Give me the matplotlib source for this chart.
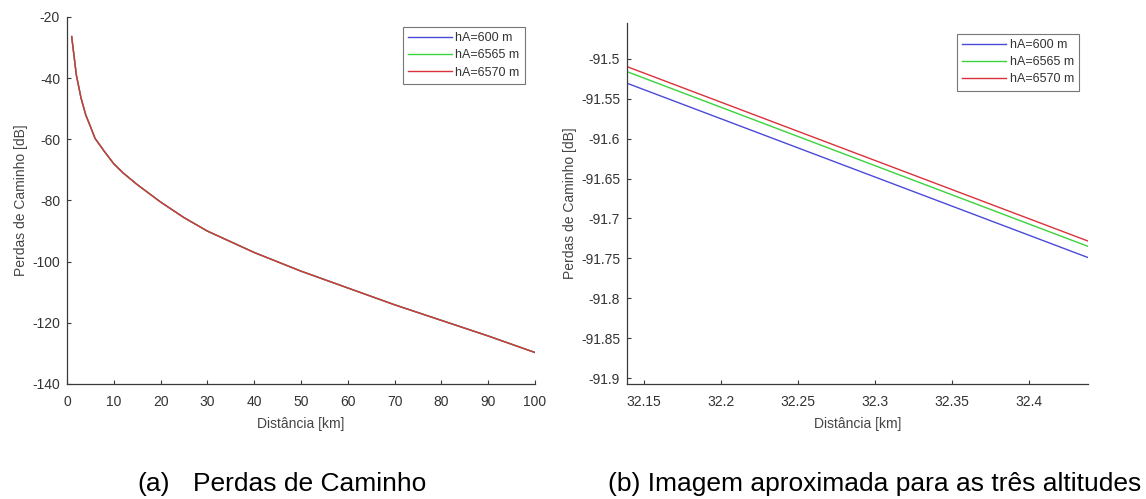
import numpy as np
import matplotlib.pyplot as plt
from matplotlib.ticker import FuncFormatter

plt.rcParams['font.family'] = ['Liberation Sans', 'DejaVu Sans']
plt.rcParams['axes.unicode_minus'] = False

# (a) path loss over the whole distance range (the three altitudes overlap at this scale)
dist_km = [1, 2, 3, 4, 5, 6, 8, 10, 12, 15, 20, 25, 30, 40, 50, 60, 70, 80, 90, 100]
loss_600 = [-26.4, -39.0, -46.5, -52.0, -55.8, -59.7, -64.0, -68.0, -71.0, -74.8,
            -80.5, -85.6, -90.0, -97.0, -103.1, -108.6, -114.1, -119.2, -124.3, -129.7]
loss_6565 = list(loss_600)
loss_6570 = list(loss_600)

# (b) zoom around 32.3 km
zoom_km = [32.139, 32.438]
zoom_600 = [-91.5305, -91.749]
zoom_6565 = [-91.516, -91.735]
zoom_6570 = [-91.5097, -91.7283]

labels = ['hA=600 m', 'hA=6565 m', 'hA=6570 m']
colors = ['#4a4ad8', '#3cd23c', '#d9323c']

W, H = 1146, 499
fig = plt.figure(figsize=(W / 100, H / 100), dpi=100)

def px_axes(x0, y0, x1, y1):
    # axes from pixel box (left, top, right, bottom)
    return fig.add_axes([x0 / W, 1 - y1 / H, (x1 - x0) / W, (y1 - y0) / H])

def style(ax):
    for s in ['top', 'right']:
        ax.spines[s].set_visible(False)
    for s in ['left', 'bottom']:
        ax.spines[s].set_color('#3a3a3a')
        ax.spines[s].set_linewidth(0.9)
    ax.tick_params(direction='in', length=3, width=0.8, colors='#3a3a3a',
                   labelsize=10, labelcolor='#333333')
    ax.tick_params(axis='x', pad=8)
    ax.tick_params(axis='y', pad=5)
    ax.set_xlabel('Distância [km]', fontsize=10, color='#444444', labelpad=6)
    ax.set_ylabel('Perdas de Caminho [dB]', fontsize=10, color='#444444', labelpad=3)

def legend(ax, x, y):
    leg = ax.legend(loc='upper left', bbox_to_anchor=(x / W, 1 - y / H),
                    bbox_transform=fig.transFigure, fontsize=9, frameon=True,
                    fancybox=False, handlelength=3.5, handletextpad=0.3,
                    labelspacing=0.42, borderpad=0.4, borderaxespad=0)
    leg.get_frame().set_edgecolor('#555555')
    leg.get_frame().set_linewidth(0.8)
    for t in leg.get_texts():
        t.set_color('#333333')

fmt = FuncFormatter(lambda v, p: '%g' % round(v, 4))

# panel (a)
ax1 = px_axes(67, 17, 535, 384)
for ys, lab, c in zip([loss_600, loss_6565, loss_6570], labels, colors):
    ax1.plot(dist_km, ys, color=c, lw=1.0, label=lab)
ax1.set_xlim(0, 100)
ax1.set_ylim(-140, -20)
ax1.set_xticks(np.arange(0, 101, 10))
ax1.set_yticks(np.arange(-140, -19, 20))
style(ax1)
legend(ax1, 403, 27)

# panel (b)
ax2 = px_axes(627, 23, 1088, 384)
for ys, lab, c in zip([zoom_600, zoom_6565, zoom_6570], labels, colors):
    ax2.plot(zoom_km, ys, color=c, lw=1.0, label=lab)
ax2.set_xlim(32.139, 32.438)
ax2.set_ylim(-91.9075, -91.455)
ax2.set_xticks([32.15, 32.2, 32.25, 32.3, 32.35, 32.4])
ax2.set_yticks([-91.9, -91.85, -91.8, -91.75, -91.7, -91.65, -91.6, -91.55, -91.5])
ax2.xaxis.set_major_formatter(fmt)
ax2.yaxis.set_major_formatter(fmt)
style(ax2)
legend(ax2, 957, 34)

# captions
base = 1 - 491 / H
fig.text(137 / W, base, '(a)', fontsize=19, ha='left', va='baseline')
fig.text(193 / W, base, 'Perdas de Caminho', fontsize=19, ha='left', va='baseline')
fig.text(608 / W, base, '(b) Imagem aproximada para as três altitudes', fontsize=19,
         ha='left', va='baseline')

fig.savefig('out.png', dpi=100)
